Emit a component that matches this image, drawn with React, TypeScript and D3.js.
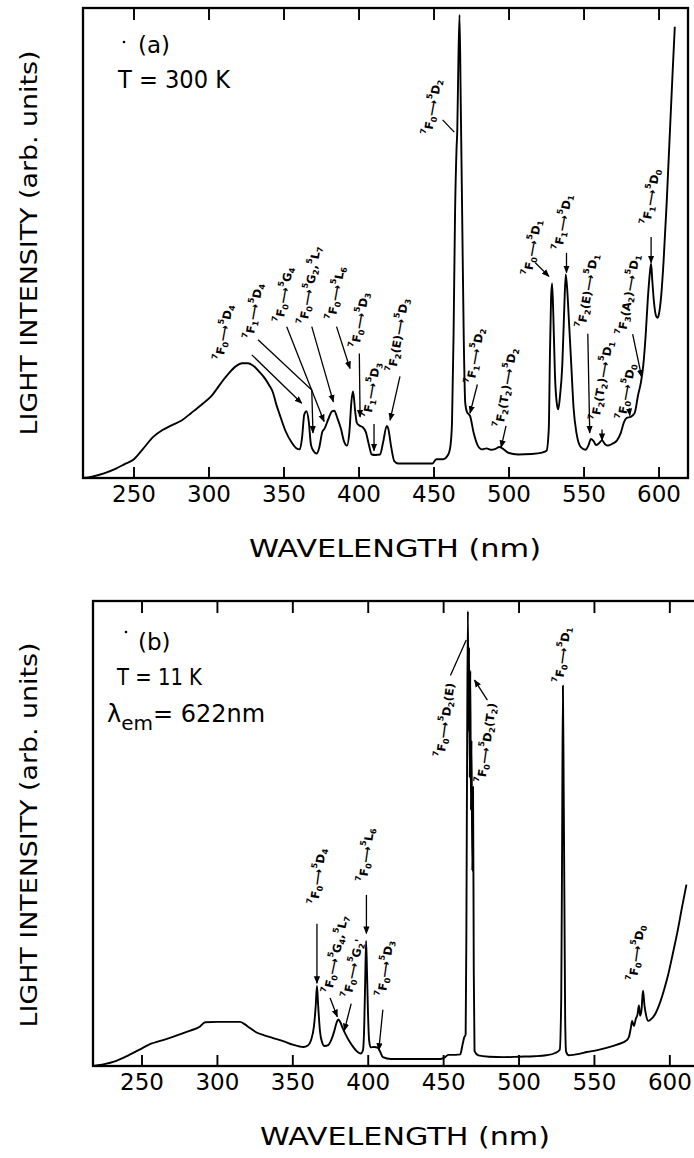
import React from 'react';
import * as d3 from 'd3';

const FONT = "'DejaVu Sans', sans-serif";

// wavelength ticks (nm), same for both panels
const tickValues = [250, 300, 350, 400, 450, 500, 550, 600];

// panel (a) T = 300 K : [wavelength nm, intensity % of frame]
const spectrumA: [number, number][] = [
  [216, 0], [222, 0.3], [230, 1.0], [238, 2.0], [244, 3.0], [250, 4.0], [256, 6.2], [263, 8.8],
  [269, 10.2], [275, 11.2], [282, 12.3], [288, 13.8], [295, 15.6], [302, 17.6], [308, 20.2],
  [313, 22.2], [318, 23.8], [322, 24.4], [326, 24.4], [329, 24.0], [333, 22.8], [337, 21.3],
  [340, 19.8], [342.5, 18.3], [345, 15.5], [347, 13.6], [351, 10.0], [355, 7.6], [358, 6.4],
  [360.5, 6.1], [362, 8.5], [363.5, 13.5], [365, 14.2], [366.5, 12.0], [368, 7.0], [370, 5.6],
  [371.8, 5.2], [373.5, 6.5], [375.5, 9.8], [377, 10.5], [379.5, 12.5], [382, 14.2], [383.5, 14.3],
  [385.5, 12.8], [388, 10.4], [390, 7.8], [392, 6.9], [393.5, 9.5], [395, 16.5], [396, 18.4],
  [397.5, 14.0], [398.5, 11.8], [400.5, 11.1], [402.5, 10.8], [404.5, 9.8], [406.5, 7.2],
  [408.5, 5.0], [411, 4.9], [414, 5.0], [416, 7.5], [418.5, 11.1], [419.5, 10.5], [421.5, 6.5],
  [423.5, 3.6], [426, 3.1], [435, 3.1], [449, 3.1], [451.5, 4.0], [456, 4.0], [459.5, 5.0],
  [461, 7.0], [462, 12], [463, 30], [464, 56], [465, 70], [465.5, 74], [466.2, 88], [467, 98.5],
  [467.8, 80], [468.8, 55], [469.8, 30], [470.8, 16], [472, 14], [474, 13.2], [476.5, 9.5],
  [479, 7], [482, 6.1], [485, 6.3], [488, 6.0], [491, 6.2], [493.5, 6.6], [496, 6.2], [499.3, 5.4],
  [506, 5.0], [515, 5.1], [522, 5.4], [525, 5.8], [526.5, 10.5], [527.2, 25], [528, 38],
  [528.7, 41.4], [529.5, 35], [530.6, 22], [532, 15.5], [532.8, 14.6], [534, 17.5], [535.5, 24],
  [536.8, 36], [537.8, 43.3], [538.8, 40], [540, 33], [541.5, 24], [543, 15], [545, 9.5],
  [548, 6.5], [551, 6.0], [553, 7.0], [554.6, 8.3], [556.5, 7.8], [558, 7.0], [560, 7.4],
  [562, 8.0], [564, 7.2], [566, 6.9], [569, 7.3], [572, 8.0], [574.5, 9.6], [576.5, 11.8],
  [578.5, 12.8], [581, 13.0], [583.7, 13.8], [586, 17.6], [588, 20.5], [589.5, 24], [591, 30],
  [592.5, 38], [594, 44], [594.7, 45.6], [595.5, 42], [596.6, 37.5], [598, 34.5], [599, 34.1],
  [600, 35], [601.5, 39], [603, 46], [605, 58], [607, 72], [609, 86], [610.5, 96],
];

// panel (b) T = 11 K
const spectrumB: [number, number][] = [
  [217.5, 0], [225, 0.4], [232, 1.0], [241, 2.3], [250, 3.8], [256, 4.8], [261, 5.3], [268, 6.0],
  [275, 6.8], [282, 7.6], [288, 8.4], [292, 9.4], [300, 9.5], [308, 9.5], [315, 9.5], [318, 9.0],
  [321, 8.3], [326, 7.2], [331, 6.6], [337, 6.0], [344, 5.3], [350, 4.6], [357, 4.1], [360, 4.4],
  [362, 5.5], [364, 8.5], [365.2, 13], [366, 17.2], [366.8, 13], [368, 7.5], [369.5, 5.0],
  [371, 4.3], [373.5, 4.5], [375.5, 5.6], [377.5, 7.5], [379, 9.3], [380.2, 10.0], [381.5, 9.4],
  [383, 8.2], [385, 6.8], [387.5, 5.3], [390, 4.1], [393, 3.0], [395, 2.7], [396.5, 3.4],
  [397.3, 8], [398, 18.5], [398.6, 26.9], [399.2, 20], [399.8, 12], [400.6, 5.5], [401.6, 4.0],
  [404, 4.1], [406.5, 3.9], [408, 3.0], [409.7, 1.9], [415, 1.5], [430, 1.5], [448, 1.5],
  [451, 1.9], [453, 2.4], [458, 2.4], [461, 2.5], [462.5, 4.5], [463.7, 6.2], [464.6, 6.8],
  [465.1, 30], [465.6, 70], [466.1, 97.8], [466.5, 72], [466.9, 90], [467.3, 62], [467.7, 85],
  [468.1, 55], [468.5, 70], [469, 42], [469.5, 60], [470, 20], [470.5, 3.2], [473, 2.3],
  [480, 2.0], [490, 1.9], [500, 2.0], [510, 2.1], [518, 2.3], [524, 2.8], [527, 3.5], [528, 15],
  [528.6, 50], [529.1, 81.8], [529.6, 60], [530.1, 35], [530.6, 10], [531.2, 3.1], [533, 2.3],
  [540, 2.6], [545, 3.0], [552, 3.4], [558, 3.9], [565, 4.6], [571.6, 5.6], [573, 6.4],
  [574.2, 8.3], [575, 9.7], [576.2, 8.6], [577.5, 10.2], [578.5, 11.0], [579.5, 13.0],
  [580.3, 10.8], [581.2, 12.0], [582.2, 16.2], [583.2, 13], [584.2, 11.0], [585.7, 9.7],
  [588, 10.2], [590.5, 11.3], [593, 13.2], [596, 16.2], [599, 19.8], [602, 24.2], [605, 28.8],
  [608, 34], [611, 39],
];

type Note = { label: string; pos: [number, number]; angle: number; arrow?: [number, number][]; head?: boolean };

// transition labels: ^ = superscript char, _ = subscript char
const notesA: Note[] = [
  { label: '^7F_0⟶^5D_4', pos: [310, 31], angle: -80, arrow: [[328.5, 26.2], [361.8, 15.9]] },
  { label: '^7F_1⟶^5D_4', pos: [330, 35.5], angle: -80, arrow: [[332.7, 29.4], [368.5, 18.7], [369.3, 9.6]] },
  { label: '^7F_0⟶^5G_4', pos: [350, 39], angle: -80, arrow: [[351.8, 32.2], [376.7, 12]] },
  { label: '^7F_0⟶^5G_2,^5L_7', pos: [367.3, 41], angle: -80, arrow: [[368.5, 32.2], [382.9, 16.2]] },
  { label: '^7F_0⟶^5L_6', pos: [384.7, 39.3], angle: -80, arrow: [[385, 32.2], [394, 23.3]] },
  { label: '^7F_0⟶^5D_3', pos: [400.7, 33.6], angle: -80, arrow: [[400.2, 26.5], [400.7, 13]] },
  { label: '^7F_1⟶^5D_3', pos: [408.4, 18.7], angle: -80, arrow: [[410, 11.5], [410, 5.8]] },
  { label: '^7F_2(E)⟶^5D_3', pos: [426.2, 30.4], angle: -80, arrow: [[427.3, 21.6], [420.7, 12.3]] },
  { label: '^7F_0⟶^5D_2', pos: [449, 78.9], angle: -80, arrow: [[455.7, 76.2], [463.5, 73.6]], head: false },
  { label: '^7F_1⟶^5D_2', pos: [477.5, 26], angle: -80, arrow: [[478.9, 19.9], [474, 13.8]] },
  { label: '^7F_2(T_2)⟶^5D_2', pos: [498, 19.2], angle: -80, arrow: [[498, 11.1], [494.7, 6.5]] },
  { label: '^7F_0⟶^5D_1', pos: [515.7, 49], angle: -80, arrow: [[517.5, 45.8], [526.6, 42.9]] },
  { label: '^7F_1⟶^5D_1', pos: [536, 54.4], angle: -80, arrow: [[538.3, 47.9], [538.3, 43.7]] },
  { label: '^7F_2(E)⟶^5D_1', pos: [552.5, 39.8], angle: -80, arrow: [[552.5, 30.7], [553.8, 9.6]] },
  { label: '^7F_2(T_2)⟶^5D_1', pos: [562, 20.7], angle: -80, arrow: [[562, 10.3], [562, 8.0]] },
  { label: '^7F_0⟶^5D_0', pos: [578.3, 18.4], angle: -80, arrow: [[580, 14.8], [580.5, 13.3]] },
  { label: '^7F_3(A_2)⟶^5D_1', pos: [579.7, 39], angle: -80, arrow: [[582.4, 30.6], [588.4, 21.5]] },
  { label: '^7F_1⟶^5D_0', pos: [594.7, 59.8], angle: -80, arrow: [[594.7, 51.3], [594.7, 45.8]] },
];

const notesB: Note[] = [
  { label: '^7F_0⟶^5D_4', pos: [366.6, 40.8], angle: -82, arrow: [[366, 30.6], [366, 17.8]] },
  { label: '^7F_0⟶^5G_4,^5L_7', pos: [378.5, 24], angle: -78, arrow: [[374.7, 14.6], [379.5, 10.6]] },
  { label: "^7F_0⟶^5G_2'", pos: [390.1, 21], angle: -78, arrow: [[388.7, 13.4], [384.1, 7.6]] },
  { label: '^7F_0⟶^5L_6', pos: [398.8, 45.4], angle: -82, arrow: [[398.8, 36.8], [398.8, 28.5]] },
  { label: '^7F_0⟶^5D_3', pos: [411.4, 21], angle: -82, arrow: [[409.7, 12.1], [407, 3.4]] },
  { label: '^7F_0⟶^5D_2(E)', pos: [451.2, 74.4], angle: -82, arrow: [[454.5, 84], [465, 91.6]], head: false },
  { label: '^7F_0⟶^5D_2(T_2)', pos: [478.5, 69.5], angle: -82, arrow: [[479, 78.7], [470.5, 83]] },
  { label: '^7F_0⟶^5D_1', pos: [529, 88.4], angle: -82 },
  { label: '^7F_0⟶^5D_0', pos: [578, 24.3], angle: -82 },
];

function rich(spec: string, size: number) {
  const segs: { t: string; k: string }[] = [];
  let i = 0;
  while (i < spec.length) {
    const c = spec[i];
    if (c === '^' || c === '_') {
      segs.push({ t: spec[i + 1], k: c });
      i += 2;
    } else {
      let j = i;
      while (j < spec.length && spec[j] !== '^' && spec[j] !== '_') j++;
      segs.push({ t: spec.slice(i, j), k: '' });
      i = j;
    }
  }
  let off = 0;
  return segs.map((s, idx) => {
    const target = s.k === '^' ? -size * 0.45 : s.k === '_' ? size * 0.3 : 0;
    const dy = target - off;
    off = target;
    return (
      <tspan key={idx} dy={dy} fontSize={s.k ? size * 0.7 : size}>
        {s.t}
      </tspan>
    );
  });
}

type PanelProps = {
  data: [number, number][];
  notes: Note[];
  domain: [number, number];
  left: number;
  right: number;
  top: number;
  bottom: number;
};

function Panel({ data, notes, domain, left, right, top, bottom }: PanelProps) {
  const x = d3.scaleLinear().domain(domain).range([left, right]);
  const y = d3.scaleLinear().domain([0, 100]).range([bottom, top]);
  const line = d3
    .line<[number, number]>()
    .x(d => x(d[0]))
    .y(d => y(d[1]))
    .curve(d3.curveMonotoneX);
  const seg = d3.line<[number, number]>().x(d => x(d[0])).y(d => y(d[1]));

  return (
    <g>
      <rect x={left} y={top} width={right - left} height={bottom - top} fill="none" stroke="#000" strokeWidth={2.3} />
      {tickValues.map(t => (
        <g key={t}>
          <line x1={x(t)} x2={x(t)} y1={top} y2={top + 12} stroke="#000" strokeWidth={1.9} />
          <line x1={x(t)} x2={x(t)} y1={bottom} y2={bottom - 11} stroke="#000" strokeWidth={1.9} />
          <text x={x(t)} y={bottom + 24} textAnchor="middle" fontSize={23} fontFamily={FONT}>
            {t}
          </text>
        </g>
      ))}
      <path d={line(data) || ''} fill="none" stroke="#000" strokeWidth={1.9} strokeLinejoin="round" />
      {notes.map((n, i) => (
        <g key={i}>
          {n.arrow && (
            <path
              d={seg(n.arrow) || ''}
              fill="none"
              stroke="#000"
              strokeWidth={1.3}
              markerEnd={n.head === false ? undefined : 'url(#ah)'}
            />
          )}
          <text
            transform={`translate(${x(n.pos[0])},${y(n.pos[1])}) rotate(${n.angle})`}
            textAnchor="middle"
            dominantBaseline="central"
            fontFamily={FONT}
            fontWeight="bold"
            fontSize={11.5}
          >
            {rich(n.label, 11.5)}
          </text>
        </g>
      ))}
    </g>
  );
}

export default function App() {
  return (
    <svg
      width={694}
      height={1158}
      style={{ position: 'absolute', left: 0, top: 0, background: '#fff' }}
    >
      <defs>
        <marker id="ah" viewBox="0 0 10 10" refX="9" refY="5" markerWidth="6" markerHeight="6" orient="auto">
          <path d="M0,1 L10,5 L0,9 z" fill="#000" />
        </marker>
      </defs>

      <Panel data={spectrumA} notes={notesA} domain={[216, 619.3]} left={83} right={688} top={8} bottom={478} />
      <Panel data={spectrumB} notes={notesB} domain={[217.5, 620]} left={93} right={700} top={601} bottom={1066} />

      {/* panel (a) texts */}
      <circle cx={124} cy={42} r={1.3} fill="#000" />
      <text x={138} y={53} fontSize={23} fontFamily={FONT}>(a)</text>
      <text x={118} y={88} fontSize={25} fontFamily={FONT} textLength={112} lengthAdjust="spacingAndGlyphs">T = 300 K</text>
      <text
        transform="translate(37,243) rotate(-90)"
        textAnchor="middle"
        fontSize={23}
        fontFamily={FONT}
        textLength={385}
        lengthAdjust="spacingAndGlyphs"
      >
        LIGHT INTENSITY (arb. units)
      </text>
      <text x={395} y={557} textAnchor="middle" fontSize={25} fontFamily={FONT} textLength={292} lengthAdjust="spacingAndGlyphs">
        WAVELENGTH (nm)
      </text>

      {/* panel (b) texts */}
      <circle cx={126} cy={632} r={1.3} fill="#000" />
      <text x={138} y={650} fontSize={23} fontFamily={FONT}>(b)</text>
      <text x={117} y={685} fontSize={23} fontFamily={FONT} textLength={85} lengthAdjust="spacingAndGlyphs">T = 11 K</text>
      <text x={107} y={722} fontSize={24} fontFamily={FONT}>
        λ<tspan dy={8} fontSize={20}>em</tspan>
        <tspan dy={-8}>= 622nm</tspan>
      </text>
      <text
        transform="translate(37,835) rotate(-90)"
        textAnchor="middle"
        fontSize={23}
        fontFamily={FONT}
        textLength={385}
        lengthAdjust="spacingAndGlyphs"
      >
        LIGHT INTENSITY (arb. units)
      </text>
      <text x={405} y={1145} textAnchor="middle" fontSize={25} fontFamily={FONT} textLength={290} lengthAdjust="spacingAndGlyphs">
        WAVELENGTH (nm)
      </text>
    </svg>
  );
}
